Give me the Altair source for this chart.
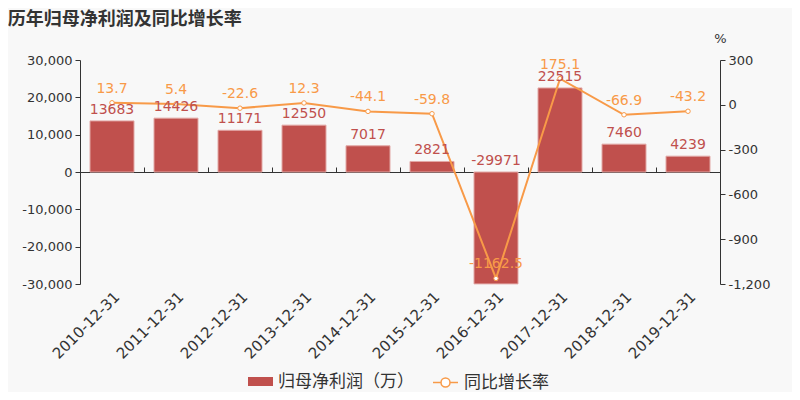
import altair as alt
import pandas as pd

dates = ["2010-12-31", "2011-12-31", "2012-12-31", "2013-12-31", "2014-12-31",
         "2015-12-31", "2016-12-31", "2017-12-31", "2018-12-31", "2019-12-31"]
profit = [13683, 14426, 11171, 12550, 7017, 2821, -29971, 22515, 7460, 4239]
growth = [13.7, 5.4, -22.6, 12.3, -44.1, -59.8, -1162.5, 175.1, -66.9, -43.2]
left_ticks = [-30000, -20000, -10000, 0, 10000, 20000, 30000]
right_ticks = [-1200, -900, -600, -300, 0, 300]

df = pd.DataFrame({"date": dates, "profit": profit, "growth": growth})

BAR = "#c0504d"
LINE = "#f89a48"
TXT = "#333333"
FONT = "DejaVu Sans, Noto Sans CJK SC"
BAR_NAME = "归母净利润（万）"
LINE_NAME = "同比增长率"
LBL = "replace(format(datum.value, ',d'), '\u2212', '-')"

xscale = alt.Scale(paddingInner=0, paddingOuter=0)
lscale = alt.Scale(domain=[-30000, 30000])
rscale = alt.Scale(domain=[-1200, 300])

base = alt.Chart(df)

bars = base.transform_calculate(s="'" + BAR_NAME + "'").mark_bar(
    size=44, stroke="#e2a8a6", strokeWidth=1
).encode(
    x=alt.X("date:N", sort=dates, scale=xscale,
            axis=alt.Axis(title=None, labelAngle=-45, domain=False, ticks=False,
                          labelFontSize=15, labelColor=TXT, labelFont=FONT,
                          labelPadding=5)),
    y=alt.Y("profit:Q", scale=lscale,
            axis=alt.Axis(orient="left", title=None, values=left_ticks, labelExpr=LBL,
                          grid=False, domainColor=TXT, tickColor=TXT, tickSize=5,
                          labelPadding=3, labelFontSize=13, labelColor=TXT,
                          labelFont=FONT)),
    color=alt.Color("s:N", scale=alt.Scale(domain=[BAR_NAME], range=[BAR]),
                    legend=alt.Legend(title=None, orient="none", legendX=168, legendY=309,
                                      symbolType="M-1,-0.36H1V0.36H-1Z", symbolSize=625,
                                      symbolStrokeWidth=0,
                                      labelFontSize=17, labelColor=TXT, labelFont=FONT,
                                      labelOffset=5)),
)

zero = base.mark_point(opacity=0).encode(
    x=alt.X("date:N", sort=dates, scale=xscale,
            axis=alt.Axis(title=None, labels=False, bandPosition=0, offset=-112,
                          domainColor=TXT, tickColor=TXT, tickSize=5)),
    y=alt.Y("profit:Q", scale=lscale, axis=None),
)

bar_labels = base.transform_calculate(
    pos="max(datum.profit, 0)", lab="'' + datum.profit"
).mark_text(
    baseline="alphabetic", dy=-7, fontSize=14, color=BAR, font=FONT
).encode(
    x=alt.X("date:N", sort=dates, scale=xscale, axis=None),
    y=alt.Y("pos:Q", scale=lscale, axis=None),
    text=alt.Text("lab:N"),
)

line = base.transform_calculate(s="'" + LINE_NAME + "'").mark_line(strokeWidth=2).encode(
    x=alt.X("date:N", sort=dates, scale=xscale, axis=None),
    y=alt.Y("growth:Q", scale=rscale,
            axis=alt.Axis(orient="right", title="%", titleAngle=0, titleX=0, titleY=-22,
                          titleAlign="center", titleBaseline="middle", titleFontSize=13,
                          titleFontWeight="normal", titleColor=TXT, titleFont=FONT,
                          values=right_ticks, labelExpr=LBL, grid=False,
                          domainColor=TXT, tickColor=TXT, tickSize=5, labelPadding=3,
                          labelFontSize=13, labelColor=TXT, labelFont=FONT)),
    stroke=alt.Stroke("s:N", scale=alt.Scale(domain=[LINE_NAME], range=[LINE]),
                      legend=alt.Legend(title=None, orient="none", legendX=352, legendY=309,
                                        symbolType="M-1,0H-0.36M0.36,0H1M0.36,0A0.36,0.36 0 1 1 -0.36,0A0.36,0.36 0 1 1 0.36,0",
                                        symbolSize=625, symbolStrokeWidth=1.5,
                                        symbolFillColor="#ffffff",
                                        labelFontSize=17, labelColor=TXT, labelFont=FONT,
                                        labelOffset=5)),
)

points = base.mark_point(filled=True, fill="#ffffff", stroke=LINE, strokeWidth=1,
                         size=20, opacity=1).encode(
    x=alt.X("date:N", sort=dates, scale=xscale, axis=None),
    y=alt.Y("growth:Q", scale=rscale, axis=None),
)

line_labels = base.transform_calculate(lab="'' + datum.growth").mark_text(
    baseline="alphabetic", dy=-10, fontSize=14, color=LINE, font=FONT
).encode(
    x=alt.X("date:N", sort=dates, scale=xscale, axis=None),
    y=alt.Y("growth:Q", scale=rscale, axis=None),
    text=alt.Text("lab:N"),
)

chart = alt.layer(bars, zero, line, points, line_labels, bar_labels).resolve_scale(
    y="independent"
).resolve_axis(x="independent").properties(
    width=640, height=224,
    autosize=alt.AutoSizeParams(type="none"),
    padding={"left": 72, "top": 52, "right": 72, "bottom": 108},
    background="#f8f8f8",
    title=alt.TitleParams("历年归母净利润及同比增长率", anchor="start", dx=-14,
                          fontSize=18, fontWeight="bold", color=TXT, font=FONT,
                          offset=3),
).configure_view(stroke=None)

chart.save("out.html", embed_options={"renderer": "svg", "actions": False})
